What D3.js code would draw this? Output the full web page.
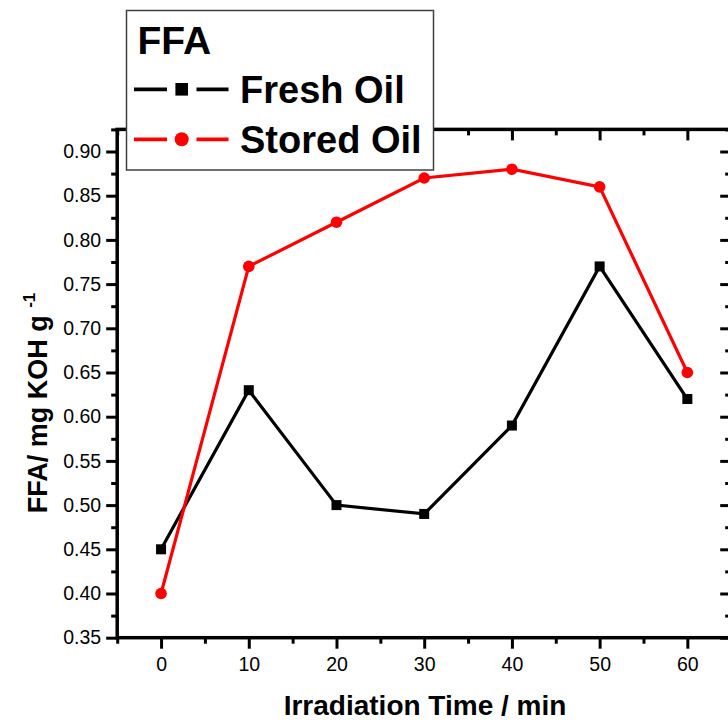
<!DOCTYPE html>
<html>
<head>
<meta charset="utf-8">
<script src="https://cdn.jsdelivr.net/npm/d3@7"></script>
<style>
  html, body { margin: 0; padding: 0; background: #fff; }
  svg { display: block; font-family: "Liberation Sans", Arial, sans-serif; }
</style>
</head>
<body>
<svg id="chart" width="728" height="721"></svg>
<script>
// Irradiation time (min)
const times = [0, 10, 20, 30, 40, 50, 60];
// FFA values, mg KOH per g
const freshOil = [0.45, 0.63, 0.50, 0.49, 0.59, 0.77, 0.62];
const storedOil = [0.40, 0.77, 0.82, 0.87, 0.88, 0.86, 0.65];
// Axis ticks
const xMajorTicks = [0, 10, 20, 30, 40, 50, 60];
const xMinorTicks = [-5, 5, 15, 25, 35, 45, 55, 65];
const yMajorTicks = [0.35, 0.40, 0.45, 0.50, 0.55, 0.60, 0.65, 0.70, 0.75, 0.80, 0.85, 0.90];
const yMinorTicks = [0.375, 0.425, 0.475, 0.525, 0.575, 0.625, 0.675, 0.725, 0.775, 0.825, 0.875, 0.925];
const seriesNames = ["Fresh Oil", "Stored Oil"];
const legendTitle = "FFA";

const svg = d3.select("#chart");

const x = d3.scaleLinear().domain([-5, 65]).range([117.2, 731.2]);
const y = d3.scaleLinear().domain([0.35, 0.925]).range([637.7, 129.4]);

const axisW = 3.5, tickW = 3;
const majorLen = 11, minorLen = 6;

function styleAxis(g, labels) {
  g.select(".domain").remove();
  g.selectAll(".tick line").attr("stroke", "#000").attr("stroke-width", tickW);
  if (!labels) g.selectAll(".tick text").remove();
  else g.selectAll(".tick text")
        .attr("fill", "#000")
        .style("font-size", "19.5px")
        .style("font-family", "'Liberation Sans', Arial, sans-serif");
}

const y0 = y.range()[0], y1 = y.range()[1];
const x0 = x.range()[0], x1 = x.range()[1];

// Bottom axis
svg.append("g").attr("transform", `translate(0,${y0})`)
  .call(d3.axisBottom(x).tickValues(xMajorTicks).tickSize(majorLen).tickPadding(8).tickFormat(d3.format("d")))
  .call(g => styleAxis(g, true));
svg.append("g").attr("transform", `translate(0,${y0})`)
  .call(d3.axisBottom(x).tickValues(xMinorTicks).tickSize(minorLen))
  .call(g => styleAxis(g, false));

// Top axis (mirrored ticks pointing inward)
svg.append("g").attr("transform", `translate(0,${y1})`)
  .call(d3.axisTop(x).tickValues(xMajorTicks).tickSize(-majorLen))
  .call(g => styleAxis(g, false));
svg.append("g").attr("transform", `translate(0,${y1})`)
  .call(d3.axisTop(x).tickValues(xMinorTicks).tickSize(-minorLen))
  .call(g => styleAxis(g, false));

// Left axis
svg.append("g").attr("transform", `translate(${x0},0)`)
  .call(d3.axisLeft(y).tickValues(yMajorTicks).tickSize(majorLen).tickPadding(5).tickFormat(d3.format(".2f")))
  .call(g => styleAxis(g, true));
svg.append("g").attr("transform", `translate(${x0},0)`)
  .call(d3.axisLeft(y).tickValues(yMinorTicks).tickSize(minorLen))
  .call(g => styleAxis(g, false));

// Right axis (mirrored ticks pointing inward)
svg.append("g").attr("transform", `translate(${x1},0)`)
  .call(d3.axisRight(y).tickValues(yMajorTicks).tickSize(-majorLen))
  .call(g => styleAxis(g, false));
svg.append("g").attr("transform", `translate(${x1},0)`)
  .call(d3.axisRight(y).tickValues(yMinorTicks).tickSize(-minorLen))
  .call(g => styleAxis(g, false));

// Frame
svg.append("rect")
  .attr("x", x0).attr("y", y1)
  .attr("width", x1 - x0).attr("height", y0 - y1)
  .attr("fill", "none").attr("stroke", "#000").attr("stroke-width", axisW);

// Axis titles
svg.append("text")
  .attr("x", 425).attr("y", 715)
  .attr("text-anchor", "middle")
  .style("font-size", "28px").style("font-weight", "bold")
  .text("Irradiation Time / min");

const yTitle = svg.append("text")
  .attr("transform", "translate(47,403) rotate(-90)")
  .attr("text-anchor", "middle")
  .style("font-size", "27px").style("font-weight", "bold");
yTitle.append("tspan").text("FFA/ mg KOH g ");
yTitle.append("tspan").attr("dy", -12).style("font-size", "17px").text("-1");

// Series
const line = d3.line().x((d, i) => x(times[i])).y(d => y(d));

const plot = svg.append("g");
plot.append("path").datum(freshOil)
  .attr("d", line).attr("fill", "none").attr("stroke", "#000").attr("stroke-width", 3.2);
plot.selectAll(".sq").data(freshOil).join("rect")
  .attr("x", (d, i) => x(times[i]) - 5).attr("y", d => y(d) - 5)
  .attr("width", 10).attr("height", 10).attr("fill", "#000");

plot.append("path").datum(storedOil)
  .attr("d", line).attr("fill", "none").attr("stroke", "#ff0000").attr("stroke-width", 3.2);
plot.selectAll(".ci").data(storedOil).join("circle")
  .attr("cx", (d, i) => x(times[i])).attr("cy", d => y(d))
  .attr("r", 5.8).attr("fill", "#ff0000");

// Legend
const lg = svg.append("g");
lg.append("rect")
  .attr("x", 126.5).attr("y", 10.5).attr("width", 307).attr("height", 159.5)
  .attr("fill", "#fff").attr("stroke", "#404040").attr("stroke-width", 1.5);
lg.append("text").attr("x", 137.5).attr("y", 54)
  .style("font-size", "39px").style("font-weight", "bold").text(legendTitle);

const legendRows = [
  { name: seriesNames[0], color: "#000", shape: "square", y: 89.3, ty: 103.3 },
  { name: seriesNames[1], color: "#ff0000", shape: "circle", y: 139.3, ty: 153 }
];
legendRows.forEach(r => {
  lg.append("line").attr("x1", 134).attr("x2", 167).attr("y1", r.y).attr("y2", r.y)
    .attr("stroke", r.color).attr("stroke-width", 3.8);
  lg.append("line").attr("x1", 196.5).attr("x2", 228.5).attr("y1", r.y).attr("y2", r.y)
    .attr("stroke", r.color).attr("stroke-width", 3.8);
  if (r.shape === "square") {
    lg.append("rect").attr("x", 181.7 - 6.3).attr("y", r.y - 6.3)
      .attr("width", 12.6).attr("height", 12.6).attr("fill", r.color);
  } else {
    lg.append("circle").attr("cx", 181.7).attr("cy", r.y).attr("r", 7).attr("fill", r.color);
  }
  lg.append("text").attr("x", 240).attr("y", r.ty)
    .style("font-size", "38px").style("font-weight", "bold").text(r.name);
});
</script>
</body>
</html>
